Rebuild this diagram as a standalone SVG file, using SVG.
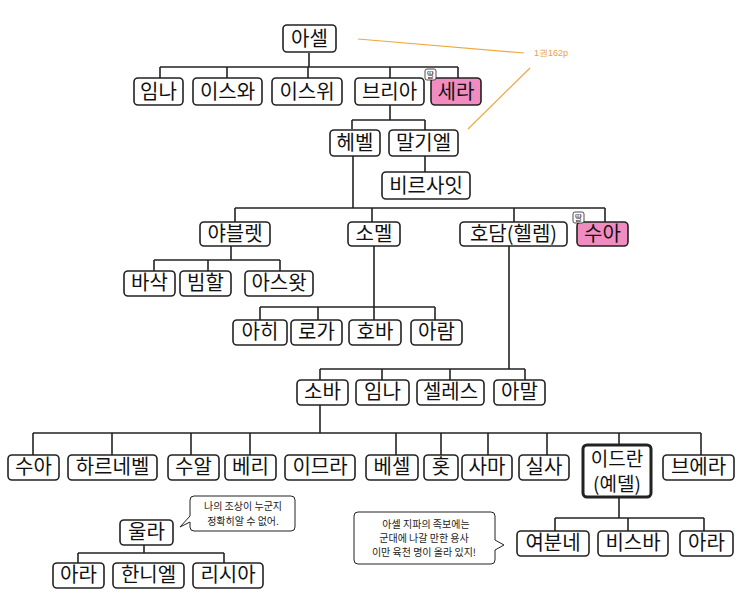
<svg xmlns="http://www.w3.org/2000/svg" width="743" height="608" viewBox="0 0 743 608">
<style>
.b{fill:#fff;stroke:#222;stroke-width:1.6}
.p{fill:#f08cc0;stroke:#222;stroke-width:1.6}
.t{font-family:"Noto Sans CJK KR","Noto Sans",sans-serif;font-size:20px;text-anchor:middle;fill:#111}
.s{font-family:"Noto Sans CJK KR",sans-serif;font-size:10px;text-anchor:middle;fill:#222}
.c line{stroke:#222;stroke-width:1.6;fill:none}
.c line.o{stroke:#f0a840;stroke-width:1.2}
</style>
<rect width="743" height="608" fill="#fff"/>
<g class="c" id="connectors">
<line x1="309" y1="53" x2="309" y2="67"/><line x1="160" y1="67" x2="458" y2="67"/>
<line x1="160" y1="67" x2="160" y2="78"/><line x1="227" y1="67" x2="227" y2="78"/><line x1="308" y1="67" x2="308" y2="78"/><line x1="390" y1="67" x2="390" y2="78"/><line x1="458" y1="67" x2="458" y2="78"/>
<line x1="390" y1="105" x2="390" y2="120"/><line x1="352" y1="120" x2="425" y2="120"/><line x1="352" y1="120" x2="352" y2="129"/><line x1="425" y1="120" x2="425" y2="172"/>
<line x1="353" y1="156" x2="353" y2="208"/><line x1="235" y1="208" x2="605" y2="208"/>
<line x1="235" y1="208" x2="235" y2="222"/><line x1="372" y1="208" x2="372" y2="222"/><line x1="514" y1="208" x2="514" y2="222"/><line x1="605" y1="208" x2="605" y2="222"/>
<line x1="231" y1="246" x2="231" y2="260"/><line x1="154" y1="260" x2="280" y2="260"/><line x1="154" y1="260" x2="154" y2="271"/><line x1="208" y1="260" x2="208" y2="271"/><line x1="280" y1="260" x2="280" y2="271"/>
<line x1="374" y1="246" x2="374" y2="320"/><line x1="260" y1="307" x2="435" y2="307"/><line x1="260" y1="307" x2="260" y2="320"/><line x1="318" y1="307" x2="318" y2="320"/><line x1="435" y1="307" x2="435" y2="320"/>
<line x1="509" y1="246" x2="509" y2="369"/><line x1="320" y1="369" x2="525" y2="369"/><line x1="320" y1="369" x2="320" y2="380"/><line x1="382" y1="369" x2="382" y2="380"/><line x1="450" y1="369" x2="450" y2="380"/><line x1="525" y1="369" x2="525" y2="380"/>
<line x1="320" y1="405" x2="320" y2="433"/><line x1="33" y1="433" x2="701" y2="433"/>
<line x1="33" y1="433" x2="33" y2="455"/><line x1="112" y1="433" x2="112" y2="455"/><line x1="191" y1="433" x2="191" y2="455"/><line x1="250" y1="433" x2="250" y2="455"/><line x1="396" y1="433" x2="396" y2="455"/><line x1="441" y1="433" x2="441" y2="455"/><line x1="488" y1="433" x2="488" y2="455"/><line x1="547" y1="433" x2="547" y2="455"/><line x1="619" y1="433" x2="619" y2="445"/><line x1="701" y1="433" x2="701" y2="455"/>
<line x1="619" y1="497" x2="619" y2="518"/><line x1="555" y1="518" x2="704" y2="518"/><line x1="555" y1="518" x2="555" y2="531"/><line x1="628" y1="518" x2="628" y2="531"/><line x1="704" y1="518" x2="704" y2="531"/>
<line x1="144" y1="545" x2="144" y2="553"/><line x1="78" y1="553" x2="224" y2="553"/><line x1="78" y1="553" x2="78" y2="563"/><line x1="224" y1="553" x2="224" y2="563"/>
<line class="o" x1="358" y1="39" x2="524" y2="53"/><line class="o" x1="530" y1="68" x2="468" y2="129"/>
</g>
<text x="551" y="56" style="font-family:'Liberation Sans',sans-serif;font-size:9px;fill:#f0a040;text-anchor:middle">1권162p</text>
<g id="n_asel"><rect class="b" x="283" y="25" width="53" height="27" rx="4"/><text class="t" x="309.5" y="46">아셀</text></g>
<g id="n_imna"><rect class="b" x="134" y="78" width="49" height="27" rx="4"/><text class="t" x="158.5" y="99">임나</text></g>
<g id="n_iswa"><rect class="b" x="193" y="78" width="69" height="27" rx="4"/><text class="t" x="227.5" y="99">이스와</text></g>
<g id="n_iswi"><rect class="b" x="272" y="78" width="70" height="27" rx="4"/><text class="t" x="307" y="99">이스위</text></g>
<g id="n_bria"><rect class="b" x="355" y="78" width="69" height="27" rx="4"/><text class="t" x="389.5" y="99">브리아</text></g>
<g id="n_sera"><rect class="p" x="431" y="78" width="50" height="27" rx="4"/><text class="t" x="456" y="99">세라</text>
<rect class="b" x="425" y="69" width="11" height="11" rx="2" style="stroke-width:0.8"/><text class="s" x="430.5" y="78" style="font-size:8px">딸</text></g>
<g id="n_hebel"><rect class="b" x="330" y="130" width="50" height="26" rx="4"/><text class="t" x="355" y="150">헤벨</text></g>
<g id="n_malgiel"><rect class="b" x="389" y="130" width="69" height="26" rx="4"/><text class="t" x="423.5" y="150">말기엘</text></g>
<g id="n_bir"><rect class="b" x="382" y="172" width="88" height="27" rx="4"/><text class="t" x="426" y="193">비르사잇</text></g>
<g id="n_yab"><rect class="b" x="200" y="222" width="70" height="24" rx="4"/><text class="t" x="235" y="241">야블렛</text></g>
<g id="n_somel"><rect class="b" x="348" y="222" width="52" height="24" rx="4"/><text class="t" x="374" y="241">소멜</text></g>
<g id="n_hodam"><rect class="b" x="460" y="222" width="107" height="24" rx="4"/><text class="t" x="513.5" y="241">호담(헬렘)</text></g>
<g id="n_sua1"><rect class="p" x="577" y="222" width="51" height="24" rx="4"/><text class="t" x="602.5" y="241">수아</text>
<rect class="b" x="573" y="212" width="11" height="11" rx="2" style="stroke-width:0.8"/><text class="s" x="578.5" y="221" style="font-size:8px">딸</text></g>
<g id="n_basak"><rect class="b" x="124" y="271" width="51" height="25" rx="4"/><text class="t" x="149.5" y="290">바삭</text></g>
<g id="n_bimhal"><rect class="b" x="180" y="271" width="51" height="25" rx="4"/><text class="t" x="205.5" y="290">빔할</text></g>
<g id="n_aswat"><rect class="b" x="245" y="271" width="68" height="25" rx="4"/><text class="t" x="279" y="290">아스왓</text></g>
<g id="n_ahi"><rect class="b" x="233" y="320" width="54" height="25" rx="4"/><text class="t" x="260" y="339">아히</text></g>
<g id="n_roga"><rect class="b" x="291" y="320" width="51" height="25" rx="4"/><text class="t" x="316.5" y="339">로가</text></g>
<g id="n_hoba"><rect class="b" x="349" y="320" width="52" height="25" rx="4"/><text class="t" x="375" y="339">호바</text></g>
<g id="n_aram"><rect class="b" x="411" y="320" width="51" height="25" rx="4"/><text class="t" x="436.5" y="339">아람</text></g>
<g id="n_soba"><rect class="b" x="297" y="380" width="51" height="25" rx="4"/><text class="t" x="322.5" y="399">소바</text></g>
<g id="n_imna2"><rect class="b" x="356" y="380" width="53" height="25" rx="4"/><text class="t" x="382.5" y="399">임나</text></g>
<g id="n_seles"><rect class="b" x="417" y="380" width="67" height="25" rx="4"/><text class="t" x="450.5" y="399">셀레스</text></g>
<g id="n_amal"><rect class="b" x="494" y="380" width="51" height="25" rx="4"/><text class="t" x="519.5" y="399">아말</text></g>
<g id="n_sua2"><rect class="b" x="8" y="455" width="51" height="25" rx="4"/><text class="t" x="33.5" y="474">수아</text></g>
<g id="n_har"><rect class="b" x="68" y="455" width="89" height="25" rx="4"/><text class="t" x="112.5" y="474">하르네벨</text></g>
<g id="n_sual"><rect class="b" x="168" y="455" width="51" height="25" rx="4"/><text class="t" x="193.5" y="474">수알</text></g>
<g id="n_beri"><rect class="b" x="225" y="455" width="51" height="25" rx="4"/><text class="t" x="250.5" y="474">베리</text></g>
<g id="n_imra"><rect class="b" x="285" y="455" width="70" height="25" rx="4"/><text class="t" x="320" y="474">이므라</text></g>
<g id="n_besel"><rect class="b" x="366" y="455" width="52" height="25" rx="4"/><text class="t" x="392" y="474">베셀</text></g>
<g id="n_hot"><rect class="b" x="424" y="455" width="34" height="25" rx="4"/><text class="t" x="441" y="474">홋</text></g>
<g id="n_sama"><rect class="b" x="462" y="455" width="50" height="25" rx="4"/><text class="t" x="487" y="474">사마</text></g>
<g id="n_silsa"><rect class="b" x="519" y="455" width="50" height="25" rx="4"/><text class="t" x="544" y="474">실사</text></g>
<g id="n_idran"><rect class="b" x="583" y="445" width="68" height="52" rx="4" style="stroke-width:3"/><text class="t" x="617" y="466" style="font-size:19px">이드란</text><text class="t" x="617" y="491" style="font-size:19px">(예델)</text></g>
<g id="n_brera"><rect class="b" x="663" y="455" width="71" height="25" rx="4"/><text class="t" x="698.5" y="474">브에라</text></g>
<g id="n_yeo"><rect class="b" x="517" y="531" width="72" height="25" rx="4"/><text class="t" x="553" y="550">여분네</text></g>
<g id="n_bisba"><rect class="b" x="598" y="531" width="70" height="25" rx="4"/><text class="t" x="633" y="550">비스바</text></g>
<g id="n_ara2"><rect class="b" x="680" y="531" width="53" height="25" rx="4"/><text class="t" x="706.5" y="550">아라</text></g>
<g id="n_ulla"><rect class="b" x="120" y="520" width="53" height="25" rx="4"/><text class="t" x="146.5" y="539">울라</text></g>
<g id="n_ara3"><rect class="b" x="53" y="563" width="51" height="25" rx="4"/><text class="t" x="78.5" y="582">아라</text></g>
<g id="n_han"><rect class="b" x="113" y="563" width="71" height="25" rx="4"/><text class="t" x="148.5" y="582">한니엘</text></g>
<g id="n_risia"><rect class="b" x="193" y="563" width="70" height="25" rx="4"/><text class="t" x="228" y="582">리시아</text></g>
<g id="bubble1"><path class="b" style="stroke-width:1" d="M194 496 H291 Q295 496 295 500 V527 Q295 531 291 531 H194 Q190 531 190 527 V522 L180 527 L190 516 V500 Q190 496 194 496 Z"/>
<text class="s" x="243" y="510">나의 조상이 누군지</text><text class="s" x="243" y="525">정확히알 수 없어.</text></g>
<g id="bubble2"><path class="b" style="stroke-width:1" d="M358 512 H491 Q495 512 495 516 V540 L504 545 L495 550 V560 Q495 564 491 564 H358 Q354 564 354 560 V516 Q354 512 358 512 Z"/>
<text class="s" x="426" y="528">아셀 지파의 족보에는</text><text class="s" x="424" y="542">군대에 나갈 만한 용사</text><text class="s" x="424" y="556">이만 육천 명이 올라 있지!</text></g>
</svg>
